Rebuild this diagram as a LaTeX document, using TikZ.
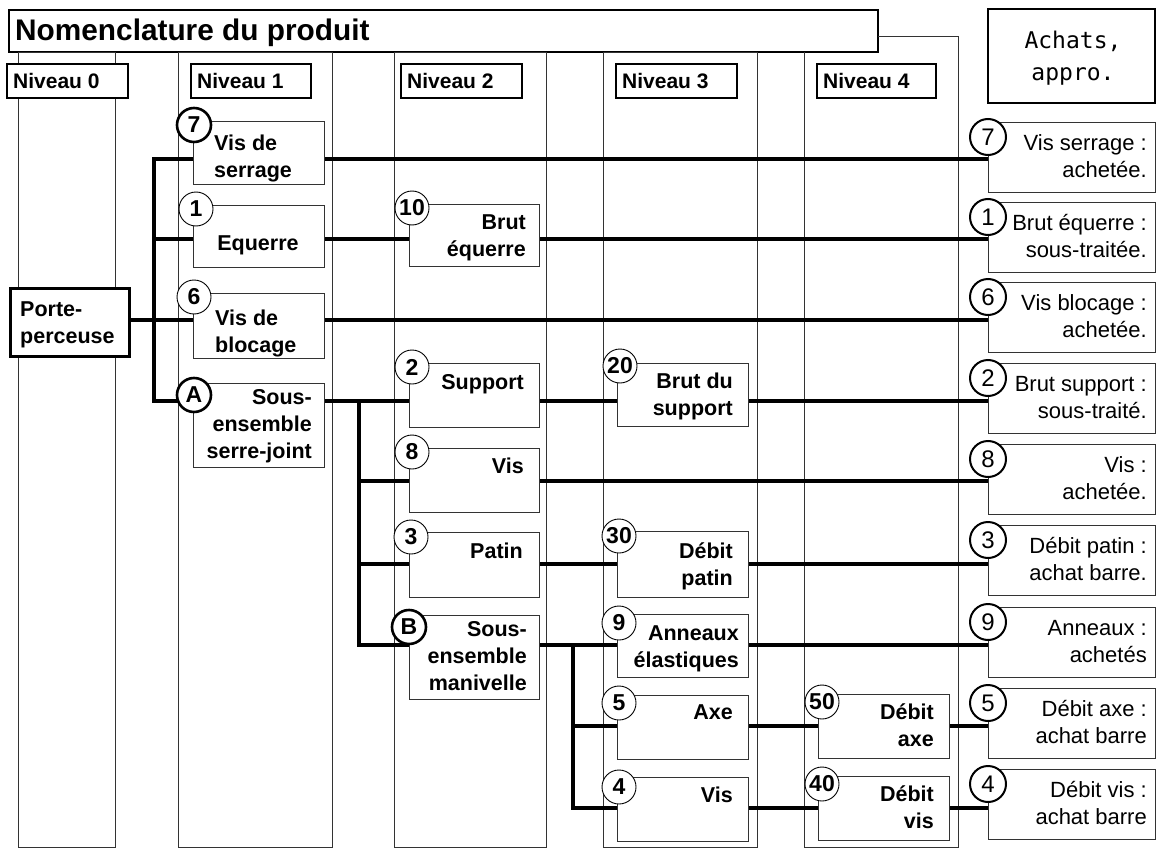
\documentclass[tikz,border=0pt]{standalone}
\usepackage{fontspec}
\setmainfont{Liberation Sans}
\newfontfamily\achfont{DejaVu Sans Mono}
\newcommand\mystrut{\rule{0pt}{20pt}}
\newcommand\mkbox[6][]{\node[box,#1,minimum width={#5-#3},minimum height={#6-#4}] (#2) at (#3,#4) {};}
\begin{document}
\begin{tikzpicture}[x=1pt,y=-1pt,
  colline/.style={draw=black!80,line width=0.9pt},
  box/.style={draw=black!80,fill=white,line width=0.9pt,inner sep=0pt,outer sep=0pt,anchor=north west},
  nivbox/.style={box,draw=black,line width=2pt},
  conn/.style={line width=3.3pt,line join=miter},
  circ/.style={circle,draw=black,fill=white,line width=0.9pt,minimum size=34pt,inner sep=0pt,font=\bfseries\fontsize{23}{24}\selectfont},
  circthick/.style={circ,line width=2.6pt,minimum size=34pt},
  rcirc/.style={circ,line width=2pt,minimum size=36pt,font=\fontsize{24}{24}\selectfont},
  lbl/.style={inner sep=0pt,font=\bfseries\fontsize{21.5}{27}\selectfont},
  nlbl/.style={inner sep=0pt,anchor=base west,font=\bfseries\fontsize{21}{24}\selectfont},
  rlbl/.style={inner sep=0pt,font=\fontsize{22}{27}\selectfont,align=right,anchor=north east},
]
\useasboundingbox (0,0) rectangle (1156,848);
\fill[white] (0,0) rectangle (1156,848);

% title
\mkbox[draw=black,line width=1.8pt]{title}{9}{10}{878}{52}
\node[inner sep=0pt,anchor=base west,font=\bfseries\fontsize{29.8}{32}\selectfont] (titletxt) at (15,41) {Nomenclature du produit};

% columns
\draw[colline] (18,52) rectangle (115,847);
\draw[colline] (178,52) rectangle (332,847);
\draw[colline] (394,52) rectangle (546,847);
\draw[colline] (603,52) rectangle (757,847);
\draw[colline] (title.east |- 0,36) -- (958,36) -- (958,847) -- (804,847) -- (804,52);

% level headers
\mkbox[nivbox]{n0}{7}{64}{128}{98}
\mkbox[nivbox]{n1}{191}{64}{311}{98}
\mkbox[nivbox]{n2}{401}{64}{522}{98}
\mkbox[nivbox]{n3}{616}{64}{737}{98}
\mkbox[nivbox]{n4}{817}{64}{936}{98}
\node[nlbl] (tn0) at (13,88.5) {Niveau 0};
\node[nlbl] (tn1) at (197,88.5) {Niveau 1};
\node[nlbl] (tn2) at (407,88.5) {Niveau 2};
\node[nlbl] (tn3) at (622,88.5) {Niveau 3};
\node[nlbl] (tn4) at (823,88.5) {Niveau 4};

% achats
\mkbox[draw=black,line width=1.8pt]{ach}{988}{9}{1155}{103}
\node[inner sep=0pt,align=center,font=\achfont\fontsize{23}{32}\selectfont] (achtxt) at (1073,58) {Achats,\\appro.};

% row coordinates
\coordinate (R1) at (0,159);
\coordinate (R2) at (0,239);
\coordinate (R3) at (0,320);
\coordinate (R4) at (0,401);
\coordinate (R5) at (0,481);
\coordinate (R6) at (0,564);
\coordinate (R7) at (0,645);
\coordinate (R8) at (0,726);
\coordinate (R9) at (0,808);
\coordinate (b1) at (154,0);
\coordinate (b2) at (359,0);
\coordinate (b3) at (573,0);

% boxes (defined before connectors so names exist; drawn again on top)
\begin{scope}[box/.append style={draw=none,fill=none}]
\mkbox{pp}{10}{288}{129}{356}
\mkbox{vserr}{193}{121}{324}{184}
\mkbox{equ}{193}{205}{324}{267}
\mkbox{vblo}{193}{293}{324}{358}
\mkbox{ssj}{193}{383}{324}{467}
\mkbox{bequ}{409}{204}{539}{266}
\mkbox{sup}{409}{363}{539}{427}
\mkbox{vis8}{409}{448}{539}{512}
\mkbox{pat}{409}{532}{539}{597}
\mkbox{ssm}{409}{615}{539}{699}
\mkbox{bsup}{617}{363}{748}{426}
\mkbox{dpat}{617}{531}{748}{597}
\mkbox{ann}{617}{614}{748}{677}
\mkbox{axe}{617}{695}{748}{759}
\mkbox{vis4}{617}{777}{748}{841}
\mkbox{dax}{818}{694}{949}{758}
\mkbox{dvis}{818}{776}{949}{840}
\mkbox{rr1}{988}{122}{1155}{192}
\mkbox{rr2}{988}{202}{1155}{272}
\mkbox{rr3}{988}{282}{1155}{352}
\mkbox{rr4}{988}{363}{1155}{433}
\mkbox{rr5}{988}{444}{1155}{514}
\mkbox{rr6}{988}{525}{1155}{595}
\mkbox{rr7}{988}{607}{1155}{677}
\mkbox{rr8}{988}{688}{1155}{758}
\mkbox{rr9}{988}{769}{1155}{839}
\end{scope}

% connectors
\draw[conn] (pp.east |- R3) -- (vblo.west |- R3);
\draw[conn] (vserr.west |- R1) -| (b1 |- R4) -- (ssj.west |- R4);
\draw[conn] (b1 |- R2) -- (equ.west |- R2);
\draw[conn] (vserr.east |- R1) -- (rr1.west |- R1);
\draw[conn] (equ.east |- R2) -- (bequ.west |- R2);
\draw[conn] (bequ.east |- R2) -- (rr2.west |- R2);
\draw[conn] (vblo.east |- R3) -- (rr3.west |- R3);
\draw[conn] (ssj.east |- R4) -- (sup.west |- R4);
\draw[conn] (b2 |- R4) -- (b2 |- R7) -- (ssm.west |- R7);
\draw[conn] (b2 |- R5) -- (vis8.west |- R5);
\draw[conn] (b2 |- R6) -- (pat.west |- R6);
\draw[conn] (sup.east |- R4) -- (bsup.west |- R4);
\draw[conn] (bsup.east |- R4) -- (rr4.west |- R4);
\draw[conn] (vis8.east |- R5) -- (rr5.west |- R5);
\draw[conn] (pat.east |- R6) -- (dpat.west |- R6);
\draw[conn] (dpat.east |- R6) -- (rr6.west |- R6);
\draw[conn] (ssm.east |- R7) -- (ann.west |- R7);
\draw[conn] (ann.east |- R7) -- (rr7.west |- R7);
\draw[conn] (b3 |- R7) -- (b3 |- R9) -- (vis4.west |- R9);
\draw[conn] (b3 |- R8) -- (axe.west |- R8);
\draw[conn] (axe.east |- R8) -- (dax.west |- R8);
\draw[conn] (dax.east |- R8) -- (rr8.west |- R8);
\draw[conn] (vis4.east |- R9) -- (dvis.west |- R9);
\draw[conn] (dvis.east |- R9) -- (rr9.west |- R9);

% visible boxes
\foreach \n in {vserr,equ,vblo,ssj,bequ,sup,vis8,pat,ssm,bsup,dpat,ann,axe,vis4,dax,dvis,rr1,rr2,rr3,rr4,rr5,rr6,rr7,rr8,rr9}
  \draw[draw=black!80,fill=white,line width=0.9pt] (\n.north west) rectangle (\n.south east);
\draw[draw=black,fill=white,line width=3pt] (pp.north west) rectangle (pp.south east);

% circles
\node[circthick] (c7) at (194,125) {7};
\node[circ] (c1) at (196,209) {1};
\node[circ] (c6) at (194,297) {6};
\node[circthick] (cA) at (194,395) {A};
\node[circ] (c10) at (412,208) {10};
\node[circ] (c2) at (412,367) {2};
\node[circ] (c8) at (412,452) {8};
\node[circ] (c3) at (411,537) {3};
\node[circthick] (cB) at (409,627) {B};
\node[circ] (c20) at (620,366) {20};
\node[circ] (c30) at (619,536) {30};
\node[circ] (c9) at (619,623) {9};
\node[circ] (c5) at (619,703) {5};
\node[circ] (c4) at (619,787) {4};
\node[circ] (c50) at (822,702) {50};
\node[circ] (c40) at (822,784) {40};
\node[rcirc] (rc7) at (988,137) {7};
\node[rcirc] (rc1) at (988,217) {1};
\node[rcirc] (rc6) at (988,297) {6};
\node[rcirc] (rc2) at (988,378) {2};
\node[rcirc] (rc8) at (988,459) {8};
\node[rcirc] (rc3) at (988,540) {3};
\node[rcirc] (rc9) at (988,622) {9};
\node[rcirc] (rc5) at (988,703) {5};
\node[rcirc] (rc4) at (988,784) {4};

% texts
\node[lbl,anchor=north west,align=left] (t_pp) at (20,296) {\mystrut Porte-\\perceuse};
\node[lbl,anchor=north west,align=left] (t_vserr) at (214,130) {\mystrut Vis de\\serrage};
\node[lbl,anchor=base] (t_equ) at (258,250) {Equerre};
\node[lbl,anchor=north west,align=left] (t_vblo) at (215,305) {\mystrut Vis de\\blocage};
\node[lbl,anchor=north east,align=right] (t_ssj) at (312,384) {\mystrut Sous-\\ensemble\\serre-joint};
\node[lbl,anchor=north east,align=right] (t_bequ) at (526,209) {\mystrut Brut\\équerre};
\node[lbl,anchor=base east] (t_sup) at (524,389) {Support};
\node[lbl,anchor=base east] (t_vis8) at (524,473) {Vis};
\node[lbl,anchor=base east] (t_pat) at (523,558) {Patin};
\node[lbl,anchor=north east,align=right] (t_ssm) at (527,616) {\mystrut Sous-\\ensemble\\manivelle};
\node[lbl,anchor=north east,align=right] (t_bsup) at (733,368) {\mystrut Brut du\\support};
\node[lbl,anchor=north east,align=right] (t_dpat) at (733,538) {\mystrut Débit\\patin};
\node[lbl,anchor=north east,align=right] (t_ann) at (739,620) {\mystrut Anneaux\\élastiques};
\node[lbl,anchor=base east] (t_axe) at (733,719) {Axe};
\node[lbl,anchor=base east] (t_vis4) at (733,802) {Vis};
\node[lbl,anchor=north east,align=right] (t_dax) at (934,699) {\mystrut Débit\\axe};
\node[lbl,anchor=north east,align=right] (t_dvis) at (934,781) {\mystrut Débit\\vis};

\node[rlbl] (tr1) at (1147,130) {\mystrut Vis serrage :\\achetée.};
\node[rlbl] (tr2) at (1147,210) {\mystrut Brut équerre :\\sous-traitée.};
\node[rlbl] (tr3) at (1147,290) {\mystrut Vis blocage :\\achetée.};
\node[rlbl] (tr4) at (1147,371) {\mystrut Brut support :\\sous-traité.};
\node[rlbl] (tr5) at (1147,452) {\mystrut Vis :\\achetée.};
\node[rlbl] (tr6) at (1147,533) {\mystrut Débit patin :\\achat barre.};
\node[rlbl] (tr7) at (1147,615) {\mystrut Anneaux :\\achetés};
\node[rlbl] (tr8) at (1147,696) {\mystrut Débit axe :\\achat barre};
\node[rlbl] (tr9) at (1147,777) {\mystrut Débit vis :\\achat barre};
\end{tikzpicture}
\end{document}
